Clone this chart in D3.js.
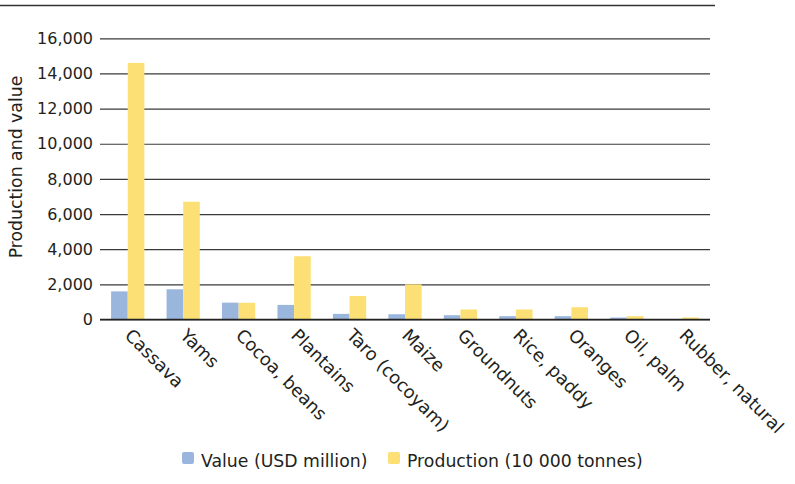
<!DOCTYPE html>
<html>
<head>
<meta charset="utf-8">
<script src="https://cdn.jsdelivr.net/npm/d3@7"></script>
<style>
  body { margin: 0; background: #fff; }
  svg, svg text { font-family: "DejaVu Sans", Verdana, sans-serif; }
  .y .tick text { fill: #231f20; font-size: 16px; }
  .x .tick text { fill: #231f20; font-size: 17.8px; }
</style>
</head>
<body>
<div class="container"></div>
<script>
let width = 795
let height = 484
let margin = { left: 100, right: 85, top: 38, bottom: 165 }

const crops = ['Cassava', 'Yams', 'Cocoa, beans', 'Plantains', 'Taro (cocoyam)', 'Maize', 'Groundnuts', 'Rice, paddy', 'Oranges', 'Oil, palm', 'Rubber, natural']
const valueUsd = [1600, 1720, 960, 830, 320, 300, 245, 190, 190, 110, 0]
const production = [14600, 6700, 950, 3600, 1340, 2000, 570, 570, 700, 190, 110]
const yTicks = [0, 2000, 4000, 6000, 8000, 10000, 12000, 14000, 16000]
const seriesNames = ['Value (USD million)', 'Production (10 000 tonnes)']
const colours = ['#9bb6dc', '#fde075']

let svg = d3.select('.container')
    .append('svg')
    .attr('width', width)
    .attr('height', height)

// rule across the top
svg.append('line')
    .attr('x1', 0).attr('x2', 715)
    .attr('y1', 5.5).attr('y2', 5.5)
    .attr('stroke', '#333').attr('stroke-width', 1.5)

let xScale = d3.scaleBand()
    .domain(crops)
    .range([margin.left, width - margin.right])
    .paddingInner(0.4)
    .paddingOuter(0.2)

let yScale = d3.scaleLinear()
    .domain([0, 16000])
    .range([319.5, 38.3])

let inner = d3.scaleBand()
    .domain([0, 1])
    .range([0, xScale.bandwidth()])

// grid lines + y labels
let yAxis = d3.axisLeft(yScale)
    .tickValues(yTicks)
    .tickSize(-(width - margin.right - margin.left))
    .tickPadding(7)
    .tickFormat(d3.format(','))

let gy = svg.append('g')
    .attr('class', 'y')
    .attr('transform', `translate(${margin.left},0)`)
    .call(yAxis)
gy.select('.domain').remove()
gy.selectAll('.tick line').attr('stroke', '#3a3a3a').attr('stroke-width', 1.2)

let groups = svg.append('g')
    .selectAll('g')
    .data(crops)
    .enter()
    .append('g')
    .attr('transform', (d) => `translate(${xScale(d)},0)`)

groups.append('rect')
    .attr('x', inner(0))
    .attr('width', inner.bandwidth())
    .attr('y', (d, i) => yScale(valueUsd[i]))
    .attr('height', (d, i) => yScale(0) - yScale(valueUsd[i]))
    .attr('fill', colours[0])

groups.append('rect')
    .attr('x', inner(1))
    .attr('width', inner.bandwidth())
    .attr('y', (d, i) => yScale(production[i]))
    .attr('height', (d, i) => yScale(0) - yScale(production[i]))
    .attr('fill', colours[1])

// zero baseline drawn over bars
svg.append('line')
    .attr('x1', margin.left).attr('x2', width - margin.right)
    .attr('y1', yScale(0)).attr('y2', yScale(0))
    .attr('stroke', '#222').attr('stroke-width', 1.4)

let xAxis = d3.axisBottom(xScale).tickSize(0)
let gx = svg.append('g')
    .attr('class', 'x')
    .attr('transform', `translate(0,${yScale(0)})`)
    .call(xAxis)
gx.select('.domain').remove()
gx.selectAll('.tick text')
    .attr('text-anchor', 'start')
    .attr('dy', null)
    .attr('y', 0)
    .attr('transform', 'translate(-4,17) rotate(45)')

svg.append('text')
    .attr('transform', 'translate(22,167) rotate(-90)')
    .attr('text-anchor', 'middle')
    .attr('font-size', 17.3)
    .attr('fill', '#231f20')
    .text('Production and value')

let legend = svg.append('g')
    .attr('transform', 'translate(182,467)')
let legendX = [0, 206]
seriesNames.forEach((name, i) => {
    legend.append('rect')
        .attr('x', legendX[i]).attr('y', -15)
        .attr('width', 12).attr('height', 12)
        .attr('rx', 2)
        .attr('fill', colours[i])
    legend.append('text')
        .attr('x', legendX[i] + 19).attr('y', 0)
        .attr('font-size', 17.3)
        .attr('fill', '#231f20')
        .text(name)
})
</script>
</body>
</html>
